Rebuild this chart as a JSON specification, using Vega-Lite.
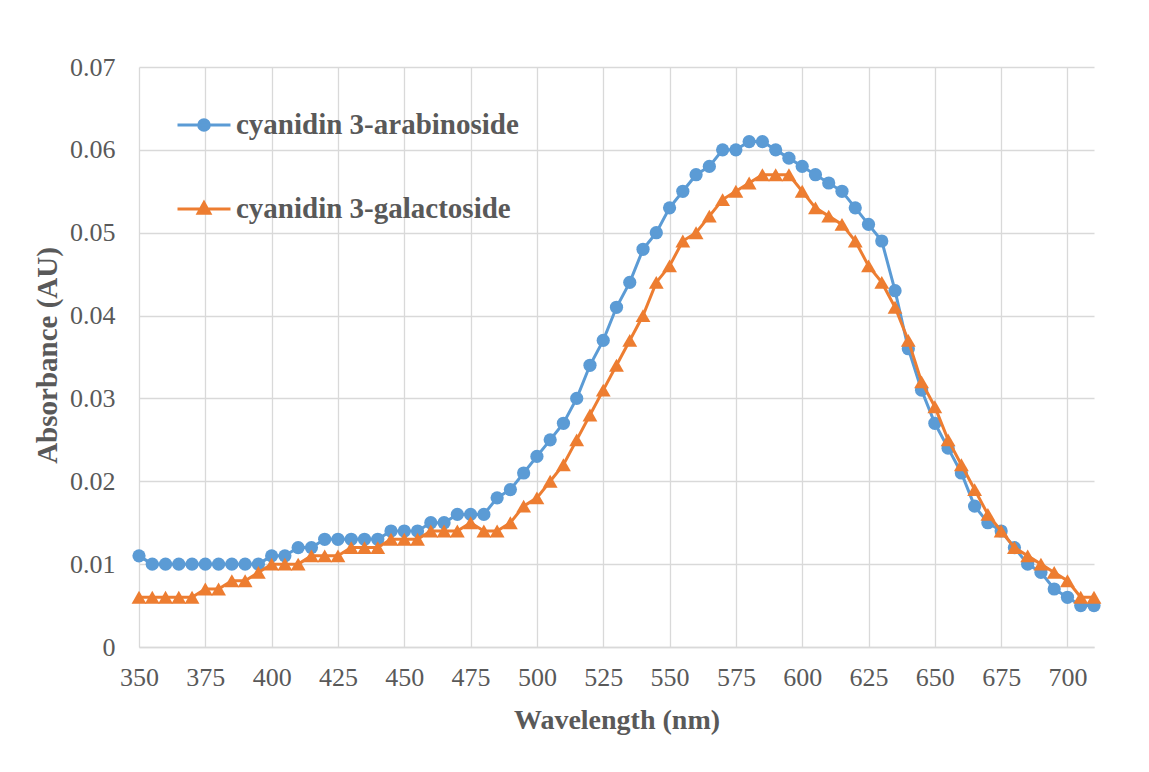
{
  "$schema": "https://vega.github.io/schema/vega-lite/v6.json",
  "width": 955,
  "height": 580,
  "autosize": {"type": "none"},
  "padding": {"left": 139, "top": 67, "right": 55, "bottom": 125},
  "background": "white",
  "data": {
    "values": [
      {"w":350,"c":"cyanidin 3-arabinoside","a":0.011},{"w":355,"c":"cyanidin 3-arabinoside","a":0.010},{"w":360,"c":"cyanidin 3-arabinoside","a":0.010},{"w":365,"c":"cyanidin 3-arabinoside","a":0.010},{"w":370,"c":"cyanidin 3-arabinoside","a":0.010},{"w":375,"c":"cyanidin 3-arabinoside","a":0.010},{"w":380,"c":"cyanidin 3-arabinoside","a":0.010},{"w":385,"c":"cyanidin 3-arabinoside","a":0.010},{"w":390,"c":"cyanidin 3-arabinoside","a":0.010},{"w":395,"c":"cyanidin 3-arabinoside","a":0.010},
      {"w":400,"c":"cyanidin 3-arabinoside","a":0.011},{"w":405,"c":"cyanidin 3-arabinoside","a":0.011},{"w":410,"c":"cyanidin 3-arabinoside","a":0.012},{"w":415,"c":"cyanidin 3-arabinoside","a":0.012},{"w":420,"c":"cyanidin 3-arabinoside","a":0.013},{"w":425,"c":"cyanidin 3-arabinoside","a":0.013},{"w":430,"c":"cyanidin 3-arabinoside","a":0.013},{"w":435,"c":"cyanidin 3-arabinoside","a":0.013},{"w":440,"c":"cyanidin 3-arabinoside","a":0.013},{"w":445,"c":"cyanidin 3-arabinoside","a":0.014},
      {"w":450,"c":"cyanidin 3-arabinoside","a":0.014},{"w":455,"c":"cyanidin 3-arabinoside","a":0.014},{"w":460,"c":"cyanidin 3-arabinoside","a":0.015},{"w":465,"c":"cyanidin 3-arabinoside","a":0.015},{"w":470,"c":"cyanidin 3-arabinoside","a":0.016},{"w":475,"c":"cyanidin 3-arabinoside","a":0.016},{"w":480,"c":"cyanidin 3-arabinoside","a":0.016},{"w":485,"c":"cyanidin 3-arabinoside","a":0.018},{"w":490,"c":"cyanidin 3-arabinoside","a":0.019},{"w":495,"c":"cyanidin 3-arabinoside","a":0.021},
      {"w":500,"c":"cyanidin 3-arabinoside","a":0.023},{"w":505,"c":"cyanidin 3-arabinoside","a":0.025},{"w":510,"c":"cyanidin 3-arabinoside","a":0.027},{"w":515,"c":"cyanidin 3-arabinoside","a":0.030},{"w":520,"c":"cyanidin 3-arabinoside","a":0.034},{"w":525,"c":"cyanidin 3-arabinoside","a":0.037},{"w":530,"c":"cyanidin 3-arabinoside","a":0.041},{"w":535,"c":"cyanidin 3-arabinoside","a":0.044},{"w":540,"c":"cyanidin 3-arabinoside","a":0.048},{"w":545,"c":"cyanidin 3-arabinoside","a":0.050},
      {"w":550,"c":"cyanidin 3-arabinoside","a":0.053},{"w":555,"c":"cyanidin 3-arabinoside","a":0.055},{"w":560,"c":"cyanidin 3-arabinoside","a":0.057},{"w":565,"c":"cyanidin 3-arabinoside","a":0.058},{"w":570,"c":"cyanidin 3-arabinoside","a":0.060},{"w":575,"c":"cyanidin 3-arabinoside","a":0.060},{"w":580,"c":"cyanidin 3-arabinoside","a":0.061},{"w":585,"c":"cyanidin 3-arabinoside","a":0.061},{"w":590,"c":"cyanidin 3-arabinoside","a":0.060},{"w":595,"c":"cyanidin 3-arabinoside","a":0.059},
      {"w":600,"c":"cyanidin 3-arabinoside","a":0.058},{"w":605,"c":"cyanidin 3-arabinoside","a":0.057},{"w":610,"c":"cyanidin 3-arabinoside","a":0.056},{"w":615,"c":"cyanidin 3-arabinoside","a":0.055},{"w":620,"c":"cyanidin 3-arabinoside","a":0.053},{"w":625,"c":"cyanidin 3-arabinoside","a":0.051},{"w":630,"c":"cyanidin 3-arabinoside","a":0.049},{"w":635,"c":"cyanidin 3-arabinoside","a":0.043},{"w":640,"c":"cyanidin 3-arabinoside","a":0.036},{"w":645,"c":"cyanidin 3-arabinoside","a":0.031},
      {"w":650,"c":"cyanidin 3-arabinoside","a":0.027},{"w":655,"c":"cyanidin 3-arabinoside","a":0.024},{"w":660,"c":"cyanidin 3-arabinoside","a":0.021},{"w":665,"c":"cyanidin 3-arabinoside","a":0.017},{"w":670,"c":"cyanidin 3-arabinoside","a":0.015},{"w":675,"c":"cyanidin 3-arabinoside","a":0.014},{"w":680,"c":"cyanidin 3-arabinoside","a":0.012},{"w":685,"c":"cyanidin 3-arabinoside","a":0.010},{"w":690,"c":"cyanidin 3-arabinoside","a":0.009},{"w":695,"c":"cyanidin 3-arabinoside","a":0.007},
      {"w":700,"c":"cyanidin 3-arabinoside","a":0.006},{"w":705,"c":"cyanidin 3-arabinoside","a":0.005},{"w":710,"c":"cyanidin 3-arabinoside","a":0.005},
      {"w":350,"c":"cyanidin 3-galactoside","a":0.006},{"w":355,"c":"cyanidin 3-galactoside","a":0.006},{"w":360,"c":"cyanidin 3-galactoside","a":0.006},{"w":365,"c":"cyanidin 3-galactoside","a":0.006},{"w":370,"c":"cyanidin 3-galactoside","a":0.006},{"w":375,"c":"cyanidin 3-galactoside","a":0.007},{"w":380,"c":"cyanidin 3-galactoside","a":0.007},{"w":385,"c":"cyanidin 3-galactoside","a":0.008},{"w":390,"c":"cyanidin 3-galactoside","a":0.008},{"w":395,"c":"cyanidin 3-galactoside","a":0.009},
      {"w":400,"c":"cyanidin 3-galactoside","a":0.010},{"w":405,"c":"cyanidin 3-galactoside","a":0.010},{"w":410,"c":"cyanidin 3-galactoside","a":0.010},{"w":415,"c":"cyanidin 3-galactoside","a":0.011},{"w":420,"c":"cyanidin 3-galactoside","a":0.011},{"w":425,"c":"cyanidin 3-galactoside","a":0.011},{"w":430,"c":"cyanidin 3-galactoside","a":0.012},{"w":435,"c":"cyanidin 3-galactoside","a":0.012},{"w":440,"c":"cyanidin 3-galactoside","a":0.012},{"w":445,"c":"cyanidin 3-galactoside","a":0.013},
      {"w":450,"c":"cyanidin 3-galactoside","a":0.013},{"w":455,"c":"cyanidin 3-galactoside","a":0.013},{"w":460,"c":"cyanidin 3-galactoside","a":0.014},{"w":465,"c":"cyanidin 3-galactoside","a":0.014},{"w":470,"c":"cyanidin 3-galactoside","a":0.014},{"w":475,"c":"cyanidin 3-galactoside","a":0.015},{"w":480,"c":"cyanidin 3-galactoside","a":0.014},{"w":485,"c":"cyanidin 3-galactoside","a":0.014},{"w":490,"c":"cyanidin 3-galactoside","a":0.015},{"w":495,"c":"cyanidin 3-galactoside","a":0.017},
      {"w":500,"c":"cyanidin 3-galactoside","a":0.018},{"w":505,"c":"cyanidin 3-galactoside","a":0.020},{"w":510,"c":"cyanidin 3-galactoside","a":0.022},{"w":515,"c":"cyanidin 3-galactoside","a":0.025},{"w":520,"c":"cyanidin 3-galactoside","a":0.028},{"w":525,"c":"cyanidin 3-galactoside","a":0.031},{"w":530,"c":"cyanidin 3-galactoside","a":0.034},{"w":535,"c":"cyanidin 3-galactoside","a":0.037},{"w":540,"c":"cyanidin 3-galactoside","a":0.040},{"w":545,"c":"cyanidin 3-galactoside","a":0.044},
      {"w":550,"c":"cyanidin 3-galactoside","a":0.046},{"w":555,"c":"cyanidin 3-galactoside","a":0.049},{"w":560,"c":"cyanidin 3-galactoside","a":0.050},{"w":565,"c":"cyanidin 3-galactoside","a":0.052},{"w":570,"c":"cyanidin 3-galactoside","a":0.054},{"w":575,"c":"cyanidin 3-galactoside","a":0.055},{"w":580,"c":"cyanidin 3-galactoside","a":0.056},{"w":585,"c":"cyanidin 3-galactoside","a":0.057},{"w":590,"c":"cyanidin 3-galactoside","a":0.057},{"w":595,"c":"cyanidin 3-galactoside","a":0.057},
      {"w":600,"c":"cyanidin 3-galactoside","a":0.055},{"w":605,"c":"cyanidin 3-galactoside","a":0.053},{"w":610,"c":"cyanidin 3-galactoside","a":0.052},{"w":615,"c":"cyanidin 3-galactoside","a":0.051},{"w":620,"c":"cyanidin 3-galactoside","a":0.049},{"w":625,"c":"cyanidin 3-galactoside","a":0.046},{"w":630,"c":"cyanidin 3-galactoside","a":0.044},{"w":635,"c":"cyanidin 3-galactoside","a":0.041},{"w":640,"c":"cyanidin 3-galactoside","a":0.037},{"w":645,"c":"cyanidin 3-galactoside","a":0.032},
      {"w":650,"c":"cyanidin 3-galactoside","a":0.029},{"w":655,"c":"cyanidin 3-galactoside","a":0.025},{"w":660,"c":"cyanidin 3-galactoside","a":0.022},{"w":665,"c":"cyanidin 3-galactoside","a":0.019},{"w":670,"c":"cyanidin 3-galactoside","a":0.016},{"w":675,"c":"cyanidin 3-galactoside","a":0.014},{"w":680,"c":"cyanidin 3-galactoside","a":0.012},{"w":685,"c":"cyanidin 3-galactoside","a":0.011},{"w":690,"c":"cyanidin 3-galactoside","a":0.010},{"w":695,"c":"cyanidin 3-galactoside","a":0.009},
      {"w":700,"c":"cyanidin 3-galactoside","a":0.008},{"w":705,"c":"cyanidin 3-galactoside","a":0.006},{"w":710,"c":"cyanidin 3-galactoside","a":0.006}
    ]
  },
  "encoding": {
    "x": {
      "field": "w", "type": "quantitative",
      "scale": {"domain": [350, 710], "nice": false, "zero": false},
      "axis": {
        "values": [350,375,400,425,450,475,500,525,550,575,600,625,650,675,700],
        "title": "Wavelength (nm)",
        "grid": true, "gridColor": "#D9D9D9", "gridWidth": 1.3,
        "domain": true, "domainColor": "#D9D9D9", "domainWidth": 1.3,
        "ticks": false,
        "labelFlush": false, "labelOverlap": false, "labelBound": false,
        "labelFont": "Liberation Serif", "labelFontSize": 26, "labelColor": "#595959",
        "labelPadding": 17,
        "titleFont": "Liberation Serif", "titleFontSize": 28, "titleFontWeight": "bold", "titleColor": "#595959",
        "titleBaseline": "alphabetic", "titleY": 81
      }
    },
    "y": {
      "field": "a", "type": "quantitative",
      "scale": {"domain": [0, 0.07], "nice": false},
      "axis": {
        "values": [0, 0.01, 0.02, 0.03, 0.04, 0.05, 0.06, 0.07],
        "format": "~g",
        "title": "Absorbance (AU)",
        "grid": true, "gridColor": "#D9D9D9", "gridWidth": 1.3,
        "domain": false, "ticks": false,
        "labelFlush": false, "labelOverlap": false,
        "labelFont": "Liberation Serif", "labelFontSize": 26, "labelColor": "#595959",
        "labelPadding": 24,
        "titleFont": "Liberation Serif", "titleFontSize": 29, "titleFontWeight": "bold", "titleColor": "#595959",
        "titleBaseline": "alphabetic", "titleAngle": -90, "titleAlign": "center", "titleX": -83, "titleY": 288
      }
    },
    "color": {
      "field": "c", "type": "nominal",
      "scale": {"domain": ["cyanidin 3-arabinoside", "cyanidin 3-galactoside"], "range": ["#5B9BD5", "#ED7D31"]},
      "legend": {
        "title": null,
        "orient": "none", "legendX": 37, "legendY": 30,
        "padding": 0, "rowPadding": 41, "labelOffset": 4,
        "symbolSize": 2809,
        "labelFont": "Liberation Serif", "labelFontSize": 29, "labelFontWeight": "bold", "labelColor": "#595959",
        "labelLimit": 600,
        "encode": {
          "symbols": {
            "update": {
              "shape": {"signal": "datum.value === 'cyanidin 3-arabinoside' ? 'M-1,0L1,0M-0.2,0A0.2,0.2,0,1,1,0.2,0A0.2,0.2,0,1,1,-0.2,0Z' : 'M-1,0L1,0M0,-0.24L0.22,0.16L-0.22,0.16Z'"},
              "size": {"value": 2809},
              "fill": {"scale": "color", "field": "value"},
              "stroke": {"scale": "color", "field": "value"},
              "strokeWidth": {"value": 3},
              "opacity": {"value": 1}
            }
          }
        }
      }
    }
  },
  "layer": [
    {
      "transform": [{"filter": "datum.c === 'cyanidin 3-arabinoside'"}],
      "mark": {"type": "line", "strokeWidth": 3}
    },
    {
      "transform": [{"filter": "datum.c === 'cyanidin 3-arabinoside'"}],
      "mark": {"type": "point", "filled": true, "opacity": 1, "size": 175, "shape": "circle"}
    },
    {
      "transform": [{"filter": "datum.c === 'cyanidin 3-galactoside'"}],
      "mark": {"type": "line", "strokeWidth": 3}
    },
    {
      "transform": [{"filter": "datum.c === 'cyanidin 3-galactoside'"}],
      "mark": {"type": "point", "filled": true, "opacity": 1, "size": 220, "shape": "triangle-up"}
    }
  ],
  "config": {
    "view": {"stroke": null}
  }
}
